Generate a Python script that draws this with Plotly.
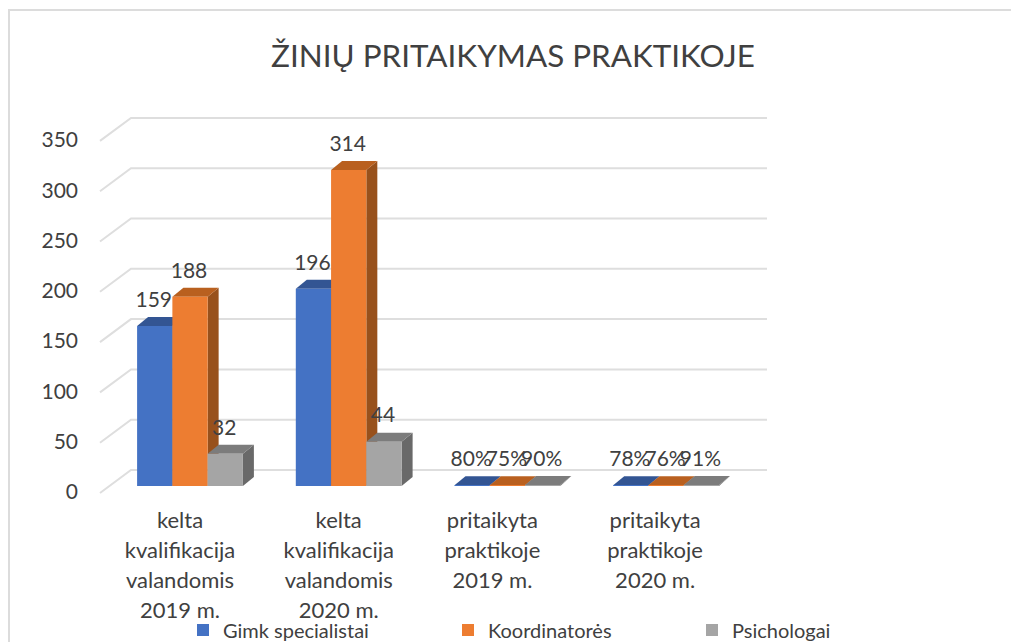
import plotly.graph_objects as go

title = "ŽINIŲ PRITAIKYMAS PRAKTIKOJE"
categories = [
    "kelta<br>kvalifikacija<br>valandomis<br>2019 m.",
    "kelta<br>kvalifikacija<br>valandomis<br>2020 m.",
    "pritaikyta<br>praktikoje<br>2019 m.",
    "pritaikyta<br>praktikoje<br>2020 m.",
]
gimk = [159, 196, 0.80, 0.78]
koord = [188, 314, 0.75, 0.76]
psich = [32, 44, 0.90, 0.91]
gimk_text = ["159", "196", "80%", "78%"]
koord_text = ["188", "314", "75%", "76%"]
psich_text = ["32", "44", "90%", "91%"]
y_ticks = [0, 50, 100, 150, 200, 250, 300, 350]

W, H = 1011, 642
P_L, P_R, P_T, P_B = 84, 800, 100, 500
BASE_PX, PX_PER_UNIT = 486, 1.006
CAT0_PX, PX_PER_CAT = 190, 158.7
xr = [(P_L - CAT0_PX) / PX_PER_CAT, (P_R - CAT0_PX) / PX_PER_CAT]
yr = [(BASE_PX - P_B) / PX_PER_UNIT, (BASE_PX - P_T) / PX_PER_UNIT]
ux = lambda px: px / PX_PER_CAT
uy = lambda px: px / PX_PER_UNIT
paper_x = lambda px: (px - P_L) / (P_R - P_L)
paper_y = lambda py: (P_B - py) / (P_B - P_T)

TEXT = "#404040"
FONT = "Lato"
BAR_W = (1 - 1 / 3) / 3
DX, DY = ux(11), uy(9)
label_dx = [-10, -10, -15, -11]

series = [
    ("Gimk specialistai", gimk, gimk_text, "#4472C4", "#335593", "#2A4778", -1, "legend", 183),
    ("Koordinatorės", koord, koord_text, "#ED7D31", "#B9601F", "#98511C", 0, "legend2", 448),
    ("Psichologai", psich, psich_text, "#A5A5A5", "#7C7C7C", "#696969", 1, "legend3", 692),
]

fig = go.Figure()

# L-shaped gridlines (side wall diagonal + back wall)
for v in y_ticks:
    gx = [(100 - CAT0_PX) / PX_PER_CAT, (131 - CAT0_PX) / PX_PER_CAT, (767 - CAT0_PX) / PX_PER_CAT]
    gy = [v - uy(7), v + uy(16), v + uy(16)]
    fig.add_trace(go.Scatter(x=gx, y=gy, mode="lines", line=dict(color="#DEDEDE", width=2),
                             showlegend=False, hoverinfo="skip", xaxis="x", yaxis="y"))

# side + top faces
for name, vals, _, col, top, side, off, _, _ in series:
    for i, v in enumerate(vals):
        c = i + off * BAR_W
        l, r = c - BAR_W / 2, c + BAR_W / 2
        fig.add_trace(go.Scatter(x=[r, r + DX, r + DX, r, r], y=[v, v + DY, DY, 0, v], mode="lines",
                                 fill="toself", fillcolor=side, line=dict(width=0, color=side),
                                 showlegend=False, hoverinfo="skip", xaxis="x", yaxis="y"))
        fig.add_trace(go.Scatter(x=[l, l + DX, r + DX, r, l], y=[v, v + DY, v + DY, v, v], mode="lines",
                                 fill="toself", fillcolor=top, line=dict(width=0, color=top),
                                 showlegend=False, hoverinfo="skip", xaxis="x", yaxis="y"))

# front faces
for name, vals, _, col, top, side, off, leg, _ in series:
    fig.add_trace(go.Bar(x=list(range(4)), y=vals, name=name, marker=dict(color=col, line=dict(width=0)),
                         legend=leg, xaxis="x2", yaxis="y2"))

# data labels
for name, vals, txt, col, top, side, off, _, _ in series:
    fig.add_trace(go.Scatter(x=[i + off * BAR_W + ux(-1) for i in range(4)],
                             y=[v + uy(24.5) for v in vals], text=txt, mode="text",
                             textposition="middle center",
                             textfont=dict(family=FONT, size=21, color=TEXT),
                             showlegend=False, hoverinfo="skip", cliponaxis=False,
                             xaxis="x2", yaxis="y2"))

tick_text = ['<span style="font-size:22px">%s</span>' % c for c in categories]
leg_common = dict(orientation="v", yanchor="middle", y=paper_y(630), xanchor="left",
                  bgcolor="rgba(0,0,0,0)", font=dict(family=FONT, size=20, color=TEXT),
                  itemwidth=30, borderwidth=0)

fig.update_layout(
    width=W, height=H, autosize=False,
    paper_bgcolor="white", plot_bgcolor="rgba(0,0,0,0)",
    margin=dict(l=P_L, r=W - P_R, t=P_T, b=H - P_B, autoexpand=False),
    barmode="group", bargap=1 / 3, bargroupgap=0,
    title=dict(text=title, x=513 / W, xanchor="center", yref="container",
               y=1 - 56 / H, yanchor="middle",
               font=dict(family=FONT, size=31.4, color=TEXT)),
    xaxis=dict(range=xr, tickmode="array",
               tickvals=[i + ux(d) for i, d in enumerate(label_dx)], ticktext=tick_text,
               tickfont=dict(family=FONT, size=23, color=TEXT), tickangle=0, ticklabelstandoff=4,
               showgrid=False, zeroline=False, showline=False, ticks=""),
    yaxis=dict(range=yr, tickmode="array", tickvals=y_ticks,
               tickfont=dict(family=FONT, size=21, color=TEXT), ticklabelshift=6, ticklabelstandoff=5,
               showgrid=False, zeroline=False, showline=False, ticks=""),
    xaxis2=dict(range=xr, overlaying="x", visible=False),
    yaxis2=dict(range=yr, overlaying="y", visible=False),
    legend=dict(x=paper_x(series[0][8]), **leg_common),
    legend2=dict(x=paper_x(series[1][8]), **leg_common),
    legend3=dict(x=paper_x(series[2][8]), **leg_common),
    shapes=[dict(type="path", xref="paper", yref="paper",
                 path="M %f %f L %f %f L %f %f" % (paper_x(9), paper_y(642), paper_x(9), paper_y(10),
                                                   paper_x(1011), paper_y(10)),
                 line=dict(color="#DCDCDC", width=2), layer="below")],
)
fig.write_html("out.html", config={"displayModeBar": False},
               post_script="document.body.style.margin='0';document.body.style.overflow='hidden';")
